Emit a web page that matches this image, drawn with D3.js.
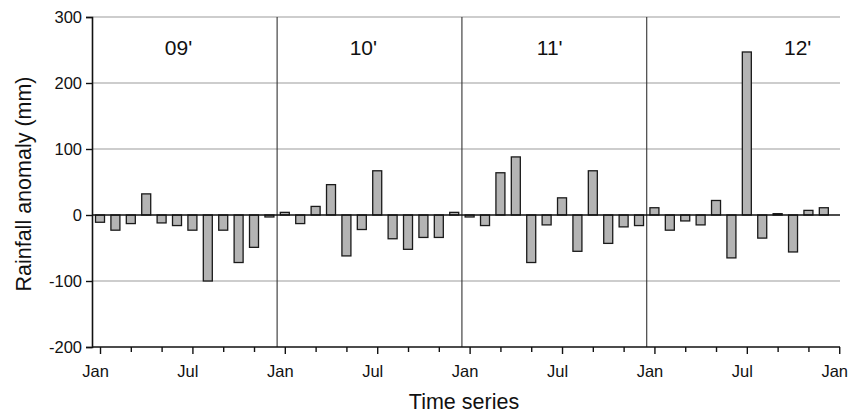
<!DOCTYPE html>
<html>
<head>
<meta charset="utf-8">
<script src="https://cdn.jsdelivr.net/npm/d3@7"></script>
<style>
  html, body { margin: 0; padding: 0; background: #fff; }
  svg { display: block; font-family: "Liberation Sans", Arial, sans-serif; }
</style>
</head>
<body>
<svg id="chart" width="852" height="413"></svg>
<script>
// Monthly rainfall anomaly (mm), Jan 2009 – Dec 2012
const years = ["09'", "10'", "11'", "12'"];
const anomaly2009 = [-11, -23, -13, 32, -12, -16, -23, -100, -23, -72, -49, -3];
const anomaly2010 = [4, -13, 13, 46, -62, -22, 67, -36, -52, -34, -34, 4];
const anomaly2011 = [-3, -16, 64, 88, -72, -15, 26, -55, 67, -43, -18, -16];
const anomaly2012 = [11, -23, -9, -15, 22, -65, 247, -35, 2, -56, 7, 11];
const yTicks = [-200, -100, 0, 100, 200, 300];
const monthLabels = { 0: "Jan", 6: "Jul" };

const values = [].concat(anomaly2009, anomaly2010, anomaly2011, anomaly2012);
const data = values.map((v, i) => ({ month: i, value: v }));

const svg = d3.select("#chart");
const margin = { left: 92, right: 12, top: 17, bottom: 66 };
const W = 852, H = 413;
const FONT = "Liberation Sans, Arial, sans-serif";

const x = d3.scaleLinear().domain([-0.52, 48.05]).range([margin.left, W - margin.right]);
const y = d3.scaleLinear().domain([-200, 300]).range([H - margin.bottom, margin.top]);

// horizontal grid lines
svg.append("g")
  .selectAll("line")
  .data(yTicks.filter(t => t !== 0 && t !== -200))
  .join("line")
  .attr("x1", x.range()[0]).attr("x2", x.range()[1])
  .attr("y1", d => y(d)).attr("y2", d => y(d))
  .attr("stroke", "#bdbdbd").attr("stroke-width", 1.6);

// year separators
svg.append("g")
  .selectAll("line")
  .data([11.5, 23.5, 35.5])
  .join("line")
  .attr("x1", d => x(d)).attr("x2", d => x(d))
  .attr("y1", y(300)).attr("y2", y(-200))
  .attr("stroke", "#333").attr("stroke-width", 1.1);

// bars
const barW = 9;
svg.append("g")
  .selectAll("rect")
  .data(data)
  .join("rect")
  .attr("x", d => x(d.month) - barW / 2)
  .attr("width", barW)
  .attr("y", d => y(Math.max(0, d.value)))
  .attr("height", d => Math.abs(y(d.value) - y(0)))
  .attr("fill", "#b4b4b4")
  .attr("stroke", "#1a1a1a")
  .attr("stroke-width", 1.3);

// zero line
svg.append("line")
  .attr("x1", x.range()[0]).attr("x2", x.range()[1])
  .attr("y1", y(0)).attr("y2", y(0))
  .attr("stroke", "#111").attr("stroke-width", 1.6);

// y axis
const yAxis = svg.append("g")
  .attr("transform", `translate(${margin.left},0)`)
  .call(d3.axisLeft(y).tickValues(yTicks).tickSize(6).tickPadding(4).tickFormat(d => String(d)));
yAxis.select(".domain").attr("stroke", "#111").attr("stroke-width", 1.6);
yAxis.selectAll(".tick line").attr("stroke", "#111").attr("stroke-width", 1.4);
yAxis.selectAll(".tick text").attr("font-size", 16.5).attr("fill", "#111")
  .attr("font-family", FONT);

// x axis (ticks every two months, Jan / Jul labelled)
const xTicks = d3.range(0, 49, 2);
const xAxis = svg.append("g")
  .attr("transform", `translate(0,${y(-200)})`)
  .call(d3.axisBottom(x).tickValues(xTicks).tickSizeOuter(0).tickSize(6).tickPadding(12)
    .tickFormat(d => monthLabels[d % 12] || ""));
xAxis.select(".domain").attr("stroke", "#111").attr("stroke-width", 1.6)
  .attr("d", `M${x.range()[0]},0H${x.range()[1]}`);
xAxis.selectAll(".tick line").attr("stroke", "#111").attr("stroke-width", 1.4)
  .attr("y2", d => (d % 6 === 0 ? 7 : 5));
xAxis.selectAll(".tick text").attr("font-size", 16.5).attr("fill", "#111")
  .attr("font-family", FONT).attr("dx", -5);

// year labels inside each panel
const labelOffset = [5.1, 5.1, 5.2, 9.3];
svg.append("g")
  .selectAll("text")
  .data(years)
  .join("text")
  .attr("x", (d, i) => x(i * 12 + labelOffset[i]))
  .attr("y", 55)
  .attr("text-anchor", "middle")
  .attr("font-size", 21)
  .attr("fill", "#111")
  .text(d => d);

// axis titles
svg.append("text")
  .attr("x", (x.range()[0] + x.range()[1]) / 2 - 2)
  .attr("y", 409)
  .attr("text-anchor", "middle")
  .attr("font-size", 21.5)
  .attr("fill", "#111")
  .text("Time series");

svg.append("text")
  .attr("transform", `translate(31,${y(50) + 2}) rotate(-90)`)
  .attr("text-anchor", "middle")
  .attr("font-size", 21.5)
  .attr("fill", "#111")
  .text("Rainfall anomaly (mm)");
</script>
</body>
</html>
